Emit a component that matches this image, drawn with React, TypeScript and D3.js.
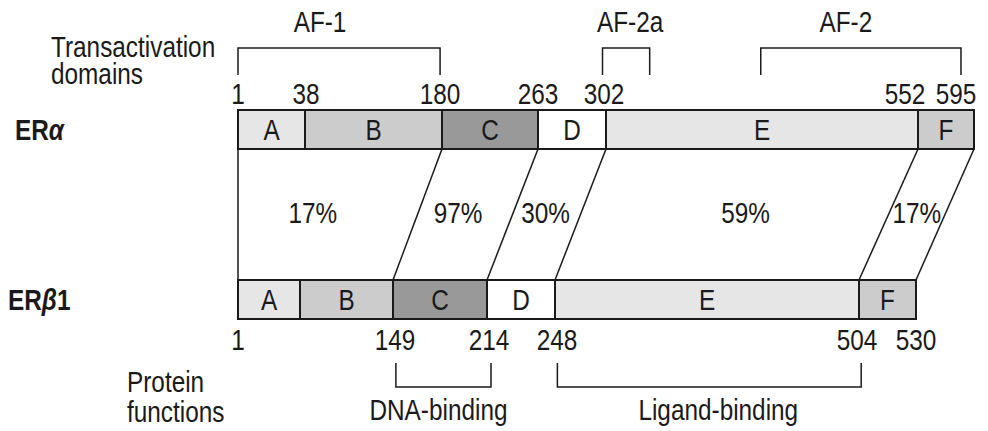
import React from "react";
import * as d3 from "d3";

// ---------- data ----------
const segmentNames = ["A", "B", "C", "D", "E", "F"];
const alphaBounds = [1, 38, 180, 263, 302, 552, 595];
const betaBounds = [1, 50, 149, 214, 248, 504, 530]; // A/B boundary of ERβ1 is unlabeled
const alphaTickResidues = [1, 38, 180, 263, 302, 552, 595];
const betaTickResidues = [1, 149, 214, 248, 504, 530];
const linkedAlpha = [1, 180, 263, 302, 552, 595];
const linkedBeta = [1, 149, 214, 248, 504, 530];
const homologyLabels = ["17%", "97%", "30%", "59%", "17%"];
const tadNames = ["AF-1", "AF-2a", "AF-2"];
const tadStart = [1, 300, 426];
const tadEnd = [178, 337, 585];
const functionNames = ["DNA-binding", "Ligand-binding"];
const functionStart = [151, 250];
const functionEnd = [216, 505];

// ---------- layout / style ----------
const W = 988;
const H = 431;
const alphaX = [238, 305, 442, 538, 606, 918, 974];
const betaX = [238, 300, 393, 487, 555, 859, 916];
const alphaY = 110;
const betaY = 280;
const barH = 39;
const segColors = ["#e6e6e6", "#cccccc", "#999999", "#ffffff", "#e6e6e6", "#cccccc"];
const alphaTickDx = [0, 1, -2, 0, -2, -13, -18];
const betaTickDx = [0, 2, 2, 2, -2, 0];
const homologyDx = [-15, -7, -1, 11, 0];
const tadDx = [-19, 4, -15];
const functionDx = [-5, 9];
const FONT = "'Liberation Sans', Arial, sans-serif";
const FS = 29;
const SX = 0.84; // horizontal condensing to mimic a narrow face
const INK = "#1a1a1a";

type TxtProps = {
  x: number;
  y: number;
  anchor?: "start" | "middle" | "end";
  bold?: boolean;
  children: React.ReactNode;
};

function Txt({ x, y, anchor = "start", bold = false, children }: TxtProps) {
  return (
    <text
      transform={`translate(${x},${y}) scale(${SX},1)`}
      textAnchor={anchor}
      fontSize={FS}
      fontWeight={bold ? "bold" : "normal"}
      fill={INK}
    >
      {children}
    </text>
  );
}

export default function App() {
  const xa = d3.scaleLinear().domain(alphaBounds).range(alphaX);
  const xb = d3.scaleLinear().domain(betaBounds).range(betaX);

  const bar = (scale: d3.ScaleLinear<number, number>, bounds: number[], y: number, key: string) => (
    <g key={key}>
      {segmentNames.map((name, i) => {
        const x0 = scale(bounds[i]);
        const x1 = scale(bounds[i + 1]);
        return (
          <g key={name}>
            <rect x={x0} y={y} width={x1 - x0} height={barH} fill={segColors[i]} stroke={INK} strokeWidth={2} />
            <Txt x={(x0 + x1) / 2} y={y + barH / 2 + 10.5} anchor="middle">
              {name}
            </Txt>
          </g>
        );
      })}
    </g>
  );

  const midY = (alphaY + barH + betaY) / 2;
  const lineMidX = linkedAlpha.map((r, i) => (xa(r) + xb(linkedBeta[i])) / 2);

  return (
    <svg
      width={W}
      height={H}
      style={{ position: "absolute", left: 0, top: 0, background: "#fff" }}
      fontFamily={FONT}
    >
      <rect x={0} y={0} width={W} height={H} fill="#fff" />

      {/* left titles */}
      <Txt x={51} y={57}>Transactivation</Txt>
      <Txt x={51} y={84}>domains</Txt>
      <Txt x={15} y={140} bold>
        ER<tspan fontStyle="italic">α</tspan>
      </Txt>
      <Txt x={8} y={310} bold>
        ER<tspan fontStyle="italic">β</tspan>1
      </Txt>
      <Txt x={127} y={392}>Protein</Txt>
      <Txt x={127} y={422}>functions</Txt>

      {/* transactivation domain brackets */}
      {tadNames.map((name, i) => {
        const x0 = xa(tadStart[i]);
        const x1 = xa(tadEnd[i]);
        return (
          <g key={name}>
            <path d={`M${x0},75V48H${x1}V75`} fill="none" stroke={INK} strokeWidth={1.5} />
            <Txt x={(x0 + x1) / 2 + tadDx[i]} y={32} anchor="middle">
              {name}
            </Txt>
          </g>
        );
      })}

      {/* connecting lines */}
      {linkedAlpha.map((r, i) => (
        <line
          key={"l" + i}
          x1={xa(r)}
          y1={alphaY + barH}
          x2={xb(linkedBeta[i])}
          y2={betaY}
          stroke={INK}
          strokeWidth={1.5}
        />
      ))}

      {/* homology percentages */}
      {homologyLabels.map((lab, i) => (
        <Txt key={"h" + i} x={(lineMidX[i] + lineMidX[i + 1]) / 2 + homologyDx[i]} y={midY + 8} anchor="middle">
          {lab}
        </Txt>
      ))}

      {bar(xa, alphaBounds, alphaY, "alpha")}
      {bar(xb, betaBounds, betaY, "beta")}

      {/* residue numbers */}
      {alphaTickResidues.map((r, i) => (
        <Txt key={"ta" + i} x={xa(r) + alphaTickDx[i]} y={104} anchor="middle">
          {r}
        </Txt>
      ))}
      {betaTickResidues.map((r, i) => (
        <Txt key={"tb" + i} x={xb(r) + betaTickDx[i]} y={350} anchor="middle">
          {r}
        </Txt>
      ))}

      {/* protein function brackets */}
      {functionNames.map((name, i) => {
        const x0 = xb(functionStart[i]);
        const x1 = xb(functionEnd[i]);
        return (
          <g key={name}>
            <path d={`M${x0},363V387H${x1}V363`} fill="none" stroke={INK} strokeWidth={1.5} />
            <Txt x={(x0 + x1) / 2 + functionDx[i]} y={420} anchor="middle">
              {name}
            </Txt>
          </g>
        );
      })}
    </svg>
  );
}
